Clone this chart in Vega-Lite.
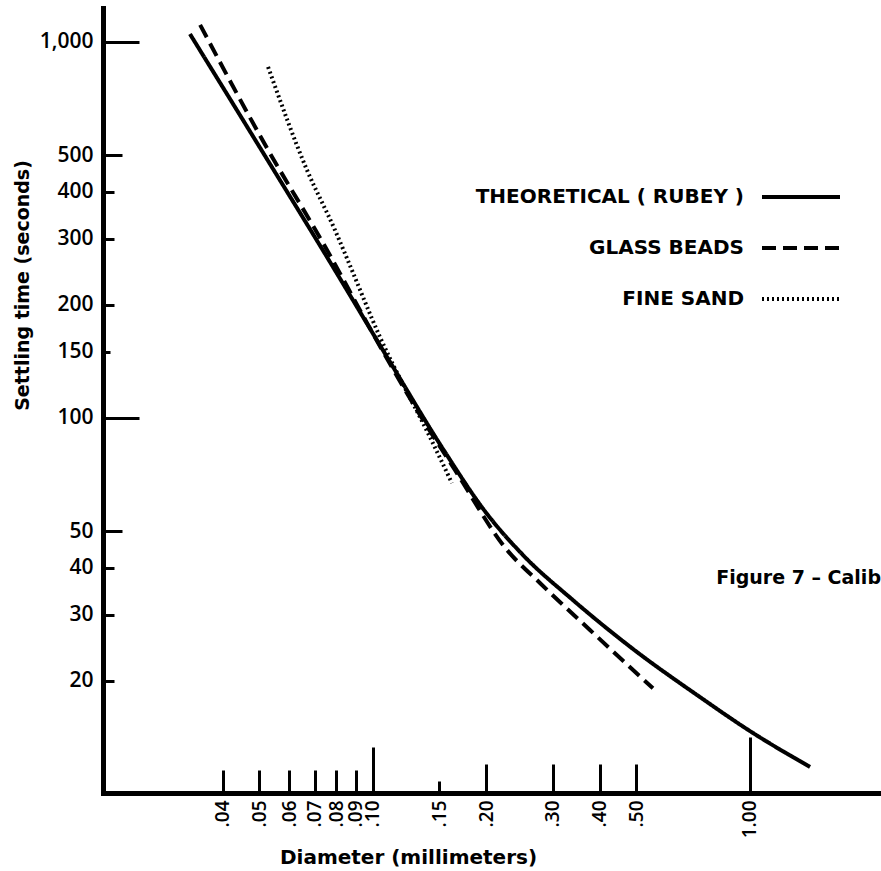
{
  "$schema": "https://vega.github.io/schema/vega-lite/v6.json",
  "width": 778,
  "height": 785,
  "autosize": {"type": "none"},
  "padding": {"left": 103, "top": 8, "right": 0, "bottom": 78},
  "background": "white",
  "config": {"view": {"stroke": null}, "font": "DejaVu Sans", "axis": {"grid": false}},
  "title": {"text": "Figure 7 – Calib", "anchor": "end", "frame": "group", "orient": "top", "offset": 0, "baseline": "middle", "dy": 589, "fontSize": 19, "font": "DejaVu Sans", "fontWeight": "bold", "color": "black"},
  "data": {"values": [
    {"series": "THEORETICAL ( RUBEY )", "d": 0.0327, "t": 1050},
    {"series": "THEORETICAL ( RUBEY )", "d": 0.0496, "t": 533},
    {"series": "THEORETICAL ( RUBEY )", "d": 0.0769, "t": 260},
    {"series": "THEORETICAL ( RUBEY )", "d": 0.111, "t": 140.9},
    {"series": "THEORETICAL ( RUBEY )", "d": 0.1534, "t": 82.7},
    {"series": "THEORETICAL ( RUBEY )", "d": 0.2006, "t": 55.6},
    {"series": "THEORETICAL ( RUBEY )", "d": 0.25, "t": 43.2},
    {"series": "THEORETICAL ( RUBEY )", "d": 0.339, "t": 32.8},
    {"series": "THEORETICAL ( RUBEY )", "d": 0.4895, "t": 24.3},
    {"series": "THEORETICAL ( RUBEY )", "d": 0.737, "t": 18.1},
    {"series": "THEORETICAL ( RUBEY )", "d": 1.0, "t": 14.7},
    {"series": "THEORETICAL ( RUBEY )", "d": 1.443, "t": 11.8},
    {"series": "GLASS BEADS", "d": 0.0348, "t": 1110},
    {"series": "GLASS BEADS", "d": 0.0511, "t": 545},
    {"series": "GLASS BEADS", "d": 0.0769, "t": 271},
    {"series": "GLASS BEADS", "d": 0.0964, "t": 179},
    {"series": "GLASS BEADS", "d": 0.1308, "t": 105},
    {"series": "GLASS BEADS", "d": 0.165, "t": 72.7},
    {"series": "GLASS BEADS", "d": 0.2266, "t": 44.6},
    {"series": "GLASS BEADS", "d": 0.2773, "t": 36.4},
    {"series": "GLASS BEADS", "d": 0.3763, "t": 27.3},
    {"series": "GLASS BEADS", "d": 0.5529, "t": 19.1},
    {"series": "FINE SAND", "d": 0.0527, "t": 858},
    {"series": "FINE SAND", "d": 0.0668, "t": 457},
    {"series": "FINE SAND", "d": 0.0793, "t": 316},
    {"series": "FINE SAND", "d": 0.0853, "t": 266},
    {"series": "FINE SAND", "d": 0.1044, "t": 164},
    {"series": "FINE SAND", "d": 0.1416, "t": 89},
    {"series": "FINE SAND", "d": 0.162, "t": 67.1}
  ]},
  "resolve": {"axis": {"x": "independent", "y": "independent"}},
  "layer": [
    {
      "mark": {"type": "line", "color": "black", "interpolate": "monotone", "strokeCap": "butt"},
      "encoding": {
        "x": {"field": "d", "type": "quantitative", "scale": {"type": "log", "domain": [0.01923, 2.226], "nice": false},
          "axis": {"orient": "bottom", "values": [0.04, 0.05, 0.06, 0.07, 0.08, 0.09, 0.1, 0.15, 0.2, 0.3, 0.4, 0.5, 1], "ticks": false, "domain": true, "domainColor": "black", "domainWidth": 5, "domainCap": "square", "labelAngle": 270, "labelFont": "Open Sans", "labelFontWeight": 600, "labelFontSize": 19, "labelColor": "black", "labelPadding": 7, "labelExpr": "datum.value == 1 ? '1.00' : replace(format(datum.value, '.2f'), '0.', '.')", "labelOverlap": false, "labelFlush": false, "labelBound": false, "title": "Diameter  (millimeters)", "titleFont": "DejaVu Sans", "titleFontSize": 20, "titleFontWeight": "bold", "titleColor": "black", "titleX": 305, "titleY": 64, "titleAlign": "center", "titleBaseline": "middle", "titleAngle": 0, "grid": false}},
        "y": {"field": "t", "type": "quantitative", "scale": {"type": "log", "domain": [10.06, 1231], "nice": false},
          "axis": {"orient": "left", "values": [1000, 500, 400, 300, 200, 150, 100, 50, 40, 30, 20], "ticks": false, "domain": true, "domainColor": "black", "domainWidth": 5, "domainCap": "square", "labelFont": "Open Sans", "labelFontWeight": 600, "labelFontSize": 21, "labelColor": "black", "labelPadding": 10, "format": ",", "labelOverlap": false, "labelFlush": false, "labelBound": false, "title": "Settling time (seconds)", "titleFont": "DejaVu Sans", "titleFontSize": 19, "titleFontWeight": "bold", "titleColor": "black", "titleX": -81, "titleY": 277, "titleAngle": 270, "titleAlign": "center", "titleBaseline": "middle", "grid": false}},
        "strokeDash": {"field": "series", "type": "nominal",
          "scale": {"domain": ["THEORETICAL ( RUBEY )", "GLASS BEADS", "FINE SAND"], "range": [[1, 0], [14, 7], [2, 3]]},
          "legend": {"orient": "none", "legendX": 657, "legendY": 148, "title": null, "symbolType": "stroke", "symbolSize": 6084, "symbolStrokeWidth": 4, "symbolStrokeColor": "black", "labelFont": "DejaVu Sans", "labelFontWeight": "bold", "labelFontSize": 20, "labelColor": "black", "labelAlign": "right", "labelOffset": -98, "rowPadding": -31, "labelLimit": 0,
            "encode": {"symbols": {"update": {"strokeWidth": [{"test": "datum.value === 'FINE SAND'", "value": 2.5}, {"value": 4}]}}}}},
        "strokeWidth": {"field": "series", "type": "nominal", "scale": {"domain": ["THEORETICAL ( RUBEY )", "GLASS BEADS", "FINE SAND"], "range": [4, 4, 2.5]}, "legend": null}
      }
    },
    {
      "mark": {"type": "point", "opacity": 0},
      "encoding": {
        "x": {"field": "d", "type": "quantitative", "scale": {"type": "log", "domain": [0.01923, 2.226], "nice": false},
          "axis": {"orient": "bottom", "values": [0.04, 0.05, 0.06, 0.07, 0.08, 0.09], "tickSize": -23, "tickWidth": 3, "tickColor": "black", "labels": false, "domain": false, "title": null, "grid": false}},
        "y": {"field": "t", "type": "quantitative", "scale": {"type": "log", "domain": [10.06, 1231], "nice": false},
          "axis": {"orient": "left", "values": [1000, 100], "tickSize": -36, "tickWidth": 3, "tickColor": "black", "labels": false, "domain": false, "title": null, "grid": false}}
      }
    },
    {
      "mark": {"type": "point", "opacity": 0},
      "encoding": {
        "x": {"field": "d", "type": "quantitative", "scale": {"type": "log", "domain": [0.01923, 2.226], "nice": false},
          "axis": {"orient": "bottom", "values": [0.1], "tickSize": -46, "tickWidth": 3, "tickColor": "black", "labels": false, "domain": false, "title": null, "grid": false}},
        "y": {"field": "t", "type": "quantitative", "scale": {"type": "log", "domain": [10.06, 1231], "nice": false},
          "axis": {"orient": "left", "values": [500, 50], "tickSize": -19, "tickWidth": 3, "tickColor": "black", "labels": false, "domain": false, "title": null, "grid": false}}
      }
    },
    {
      "mark": {"type": "point", "opacity": 0},
      "encoding": {
        "x": {"field": "d", "type": "quantitative", "scale": {"type": "log", "domain": [0.01923, 2.226], "nice": false},
          "axis": {"orient": "bottom", "values": [0.15], "tickSize": -12, "tickWidth": 3, "tickColor": "black", "labels": false, "domain": false, "title": null, "grid": false}},
        "y": {"field": "t", "type": "quantitative", "scale": {"type": "log", "domain": [10.06, 1231], "nice": false},
          "axis": {"orient": "left", "values": [400, 300, 200, 40, 30, 20], "tickSize": -11, "tickWidth": 3, "tickColor": "black", "labels": false, "domain": false, "title": null, "grid": false}}
      }
    },
    {
      "mark": {"type": "point", "opacity": 0},
      "encoding": {
        "x": {"field": "d", "type": "quantitative", "scale": {"type": "log", "domain": [0.01923, 2.226], "nice": false},
          "axis": {"orient": "bottom", "values": [0.2, 0.3, 0.4, 0.5], "tickSize": -29, "tickWidth": 3, "tickColor": "black", "labels": false, "domain": false, "title": null, "grid": false}},
        "y": {"field": "t", "type": "quantitative", "scale": {"type": "log", "domain": [10.06, 1231], "nice": false},
          "axis": {"orient": "left", "values": [150], "tickSize": -7, "tickWidth": 3, "tickColor": "black", "labels": false, "domain": false, "title": null, "grid": false}}
      }
    },
    {
      "mark": {"type": "point", "opacity": 0},
      "encoding": {
        "x": {"field": "d", "type": "quantitative", "scale": {"type": "log", "domain": [0.01923, 2.226], "nice": false},
          "axis": {"orient": "bottom", "values": [1], "tickSize": -56, "tickWidth": 3, "tickColor": "black", "labels": false, "domain": false, "title": null, "grid": false}},
        "y": {"field": "t", "type": "quantitative", "scale": {"type": "log", "domain": [10.06, 1231], "nice": false}, "axis": null}
      }
    }
  ]
}
